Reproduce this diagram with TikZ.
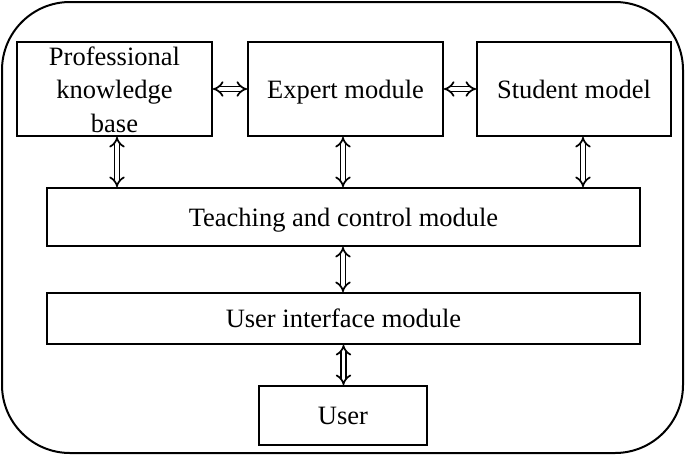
\documentclass[tikz,border=0pt]{standalone}
\usepackage{fontspec}
\setmainfont{Liberation Serif}
\usetikzlibrary{arrows.meta,calc}
\begin{document}
\begin{tikzpicture}[x=1pt,y=-1pt,
  box/.style={draw,line width=1.8pt,inner sep=0pt,align=center,
    font=\fontsize{26.5}{33.5}\selectfont},
  oneline/.style={text height=21pt,text depth=2.5pt},
  darrow/.style={double,double distance=3.5pt,line width=1.7pt,
    {Implies[length=6pt,width=13pt]}-{Implies[length=6pt,width=13pt]}}]
\useasboundingbox (0,0) rectangle (685,458);
\draw[line width=2pt,rounded corners=68pt] (2,2) rectangle (683,453);
\node[box,minimum width=195pt,minimum height=94pt] (pkb) at (114.5,89)
  {\raisebox{-9.5pt}[0pt][0pt]{\begin{tabular}{@{}c@{}}Professional\\knowledge\\base\end{tabular}}};
\node[box,oneline,minimum width=195pt,minimum height=94pt] (exp) at (345.5,89) {Expert module};
\node[box,oneline,minimum width=194pt,minimum height=94pt] (stu) at (574,89) {Student model};
\node[box,oneline,minimum width=593pt,minimum height=58pt] (tea) at (343.5,217) {Teaching and control module};
\node[box,oneline,minimum width=593pt,minimum height=51pt] (ui) at (343.5,318.5) {User interface module};
\node[box,oneline,minimum width=168pt,minimum height=59pt] (usr) at (343,415.5) {User};
\draw[darrow] (pkb.east) -- (exp.west);
\draw[darrow] (exp.east) -- (stu.west);
\draw[darrow] ([xshift=2.5pt]pkb.south) -- ([xshift=2.5pt]pkb.south |- tea.north);
\draw[darrow] ([xshift=-2.5pt]exp.south) -- ([xshift=-2.5pt]exp.south |- tea.north);
\draw[darrow] ([xshift=9pt]stu.south) -- ([xshift=9pt]stu.south |- tea.north);
\draw[darrow] ([xshift=-0.5pt]tea.south) -- ([xshift=-0.5pt]tea.south |- ui.north);
\draw[darrow] (ui.south) -- (ui.south |- usr.north);
\end{tikzpicture}
\end{document}
